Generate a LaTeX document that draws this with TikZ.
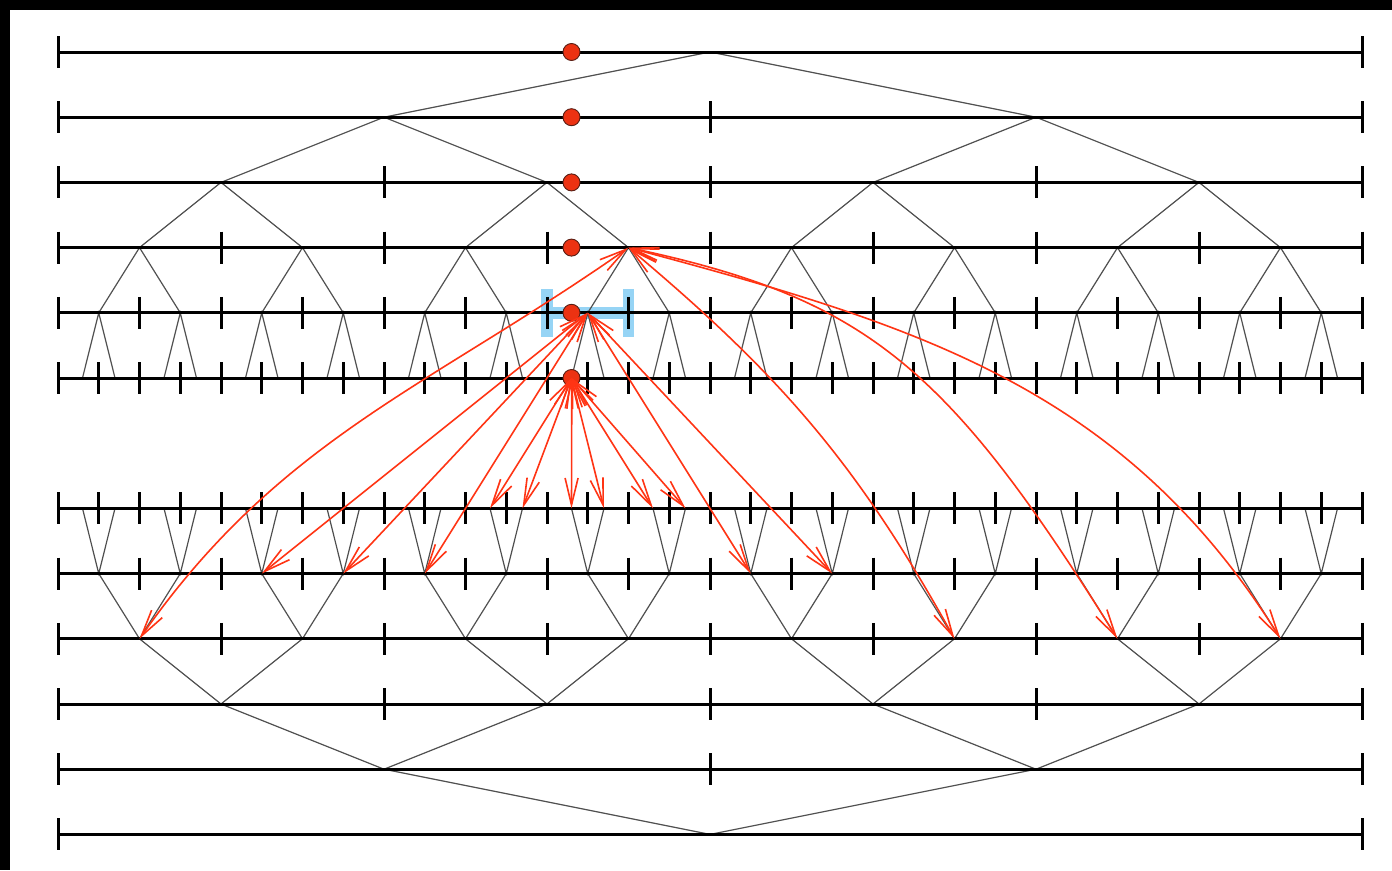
\documentclass[tikz,border=0pt]{standalone}
\usetikzlibrary{arrows.meta}
\definecolor{arrowred}{RGB}{255,52,20}
\definecolor{dotred}{RGB}{236,50,18}
\definecolor{dotedge}{RGB}{90,30,20}
\definecolor{hlblue}{RGB}{150,212,245}
\definecolor{treegray}{RGB}{80,80,80}
\begin{document}
\begin{tikzpicture}[x=1pt,y=-1pt,
  axis/.style={line width=3pt, black},
  ticks/.style={line width=3pt, black},
  treeline/.style={line width=1.2pt, treegray},
  reddot/.style={circle, fill=dotred, draw=dotedge, line width=0.9pt, inner sep=0pt, minimum size=17pt},
  link/.style={arrowred, line width=1.6pt, {Straight Barb[length=27pt,width=13pt]}-{Straight Barb[length=27pt,width=13pt]}},
  hl/.style={hlblue, line width=11.5pt}
]
\useasboundingbox (0,0) rectangle (1392,870);
\fill[white] (0,0) rectangle (1392,870);
\fill[black] (0,0) rectangle (1392,10);
\fill[black] (0,0) rectangle (10,870);

% tree node coordinates
\foreach \L in {0,...,4} {
  \pgfmathtruncatemacro\N{2^\L-1}
  \pgfmathsetmacro\sp{1304/2^\L}
  \pgfmathsetmacro\yt{52+65.2*\L}
  \pgfmathsetmacro\yb{52+65.2*(12-\L)}
  \foreach \j in {0,...,\N} {
    \pgfmathsetmacro\xx{58+\sp*(\j+0.5)}
    \coordinate (t\L-\j) at (\xx,\yt);
    \coordinate (b\L-\j) at (\xx,\yb);
  }
}
\foreach \j in {0,...,15} {
  \pgfmathtruncatemacro\a{2*\j}
  \pgfmathtruncatemacro\b{2*\j+1}
  \pgfmathsetmacro\xl{58+81.5*(\j+0.5)-16.25}
  \pgfmathsetmacro\xr{58+81.5*(\j+0.5)+16.25}
  \coordinate (t5-\a) at (\xl,378);
  \coordinate (t5-\b) at (\xr,378);
  \coordinate (b5-\a) at (\xl,508.4);
  \coordinate (b5-\b) at (\xr,508.4);
}

% highlight
\draw[hl] (547,289) -- (547,337) (547,312.8) -- (628.5,312.8) (628.5,289) -- (628.5,337);

% tree edges
\foreach \L in {0,...,4} {
  \pgfmathtruncatemacro\N{2^\L-1}
  \pgfmathtruncatemacro\M{\L+1}
  \foreach \j in {0,...,\N} {
    \pgfmathtruncatemacro\a{2*\j}
    \pgfmathtruncatemacro\b{2*\j+1}
    \draw[treeline] (t\M-\a) -- (t\L-\j) -- (t\M-\b);
    \draw[treeline] (b\M-\a) -- (b\L-\j) -- (b\M-\b);
  }
}

% axes with ticks
\foreach \L in {0,...,5} {
  \pgfmathtruncatemacro\N{2^\L}
  \pgfmathsetmacro\sp{1304/2^\L}
  \pgfmathsetmacro\yt{52+65.2*\L}
  \pgfmathsetmacro\yb{52+65.2*(12-\L)}
  \foreach \y in {\yt,\yb} {
    \draw[axis] (58,\y) -- (1362,\y);
    \foreach \i in {0,...,\N} {
      \pgfmathsetmacro\xx{58+\sp*\i}
      \draw[ticks] (\xx,\y-16) -- (\xx,\y+16);
    }
  }
}

% red dots
\foreach \L in {0,...,5} {
  \node[reddot] (dot\L) at (571.5,52+65.2*\L) {};
}

% interactions
\draw[link] (t3-3) to[out=-145,in=55] (b3-0);
\draw[link] (t3-3) to[out=-40,in=119] (b3-5);
\draw[link] (t3-3) to[out=-12,in=122,in looseness=1.3] (b3-6);
\draw[link] (t3-3) to[out=-15,in=122] (b3-7);
\foreach \k in {2,3,4,8,9} {
  \draw[link] (t4-6) -- (b4-\k);
}
\foreach \k in {10,11,13,14,15} {
  \draw[link] (t5-12) -- (b5-\k);
}
\draw[link] ([xshift=0.3pt]t5-12) -- (b5-12);
\end{tikzpicture}
\end{document}
